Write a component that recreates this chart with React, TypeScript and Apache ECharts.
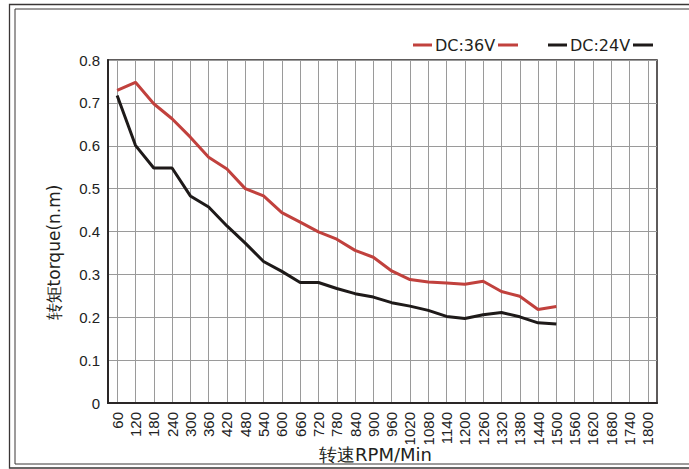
import React, { useEffect, useRef } from 'react';
import * as echarts from 'echarts';

const categories = [
  '60', '120', '180', '240', '300', '360', '420', '480', '540', '600',
  '660', '720', '780', '840', '900', '960', '1020', '1080', '1140', '1200',
  '1260', '1320', '1380', '1440', '1500', '1560', '1620', '1680', '1740', '1800',
];

const seriesNames = ['DC:36V', 'DC:24V'];

const torque36V = [
  0.729, 0.748, 0.698, 0.663, 0.620, 0.573, 0.546, 0.500, 0.483, 0.444,
  0.422, 0.399, 0.382, 0.356, 0.340, 0.308, 0.288, 0.282, 0.280, 0.277,
  0.284, 0.260, 0.249, 0.218, 0.225,
];

const torque24V = [
  0.717, 0.601, 0.548, 0.548, 0.483, 0.457, 0.413, 0.373, 0.330, 0.307,
  0.281, 0.281, 0.267, 0.255, 0.247, 0.234, 0.226, 0.216, 0.202, 0.197,
  0.206, 0.211, 0.201, 0.187, 0.184,
];

const yMin = 0;
const yMax = 0.8;
const yInterval = 0.1;

const xAxisName = '转速RPM/Min';
const yAxisName = '转矩torque(n.m)';

const RED = '#c1413d';
const BLACK = '#1e1a19';

export default function App() {
  const ref = useRef<HTMLDivElement>(null);

  useEffect(() => {
    if (!ref.current) return;
    const chart = echarts.init(ref.current, null, { renderer: 'svg' });
    const legendFont = { fontFamily: 'DejaVu Sans', fontSize: 16 };
    const legendItem = (name: string, color: string, cx: number) => ({
      type: 'group',
      children: [
        { type: 'line', shape: { x1: cx - 52, y1: 45, x2: cx - 33, y2: 45 }, style: { stroke: color, lineWidth: 3 } },
        { type: 'text', x: cx, y: 45, style: { text: name, fill: '#231f20', align: 'center', verticalAlign: 'middle', ...legendFont } },
        { type: 'line', shape: { x1: cx + 33, y1: 45, x2: cx + 53, y2: 45 }, style: { stroke: color, lineWidth: 3 } },
      ],
    });
    chart.setOption({
      animation: false,
      backgroundColor: '#ffffff',
      grid: {
        left: 108,
        right: 32,
        top: 60,
        bottom: 66,
        show: true,
        borderColor: '#2a2626',
        borderWidth: 1.5,
        containLabel: false,
        outerBoundsMode: 'none',
      },
      graphic: [
        { type: 'rect', shape: { x: 9.5, y: 4.5, width: 700, height: 463.5 }, style: { fill: 'none', stroke: '#3a3636', lineWidth: 1.3 } },
        { type: 'rect', shape: { x: 15, y: 9, width: 690, height: 455 }, style: { fill: 'none', stroke: '#3a3636', lineWidth: 1 } },
        legendItem(seriesNames[0], RED, 465),
        legendItem(seriesNames[1], BLACK, 600),
      ],
      xAxis: {
        type: 'category',
        data: categories,
        boundaryGap: true,
        name: xAxisName,
        nameLocation: 'middle',
        nameGap: 42,
        nameMoveOverlap: false,
        nameTextStyle: { fontFamily: 'DejaVu Sans', fontSize: 18, color: '#231f20', padding: [0, 14, 0, 0] },
        axisLine: { show: true, lineStyle: { color: '#2a2626', width: 2 } },
        axisTick: { show: false },
        axisLabel: {
          interval: 0,
          rotate: 90,
          margin: 9,
          fontFamily: 'Liberation Sans',
          fontSize: 15,
          color: '#222',
        },
        splitLine: {
          show: true,
          interval: 0,
          alignWithLabel: true,
          lineStyle: { color: '#9a9a9a', width: 1 },
        },
      },
      yAxis: {
        type: 'value',
        min: yMin,
        max: yMax,
        interval: yInterval,
        name: yAxisName,
        nameLocation: 'middle',
        nameGap: 46,
        nameMoveOverlap: false,
        nameTextStyle: { fontFamily: 'DejaVu Sans', fontSize: 17, color: '#231f20', padding: [0, 42, 0, 0] },
        axisLine: { show: true, lineStyle: { color: '#2a2626', width: 2 } },
        axisTick: { show: false },
        axisLabel: {
          margin: 8,
          fontFamily: 'Liberation Sans',
          fontSize: 15,
          color: '#222',
        },
        splitLine: { show: true, lineStyle: { color: '#9a9a9a', width: 1 } },
      },
      series: [
        {
          name: seriesNames[0],
          type: 'line',
          data: torque36V,
          symbol: 'none',
          lineStyle: { color: RED, width: 3 },
          itemStyle: { color: RED },
          z: 3,
        },
        {
          name: seriesNames[1],
          type: 'line',
          data: torque24V,
          symbol: 'none',
          lineStyle: { color: BLACK, width: 3 },
          itemStyle: { color: BLACK },
          z: 4,
        },
      ],
    });
    return () => chart.dispose();
  }, []);

  return (
    <div
      ref={ref}
      style={{ position: 'absolute', left: 0, top: 0, width: 689, height: 469 }}
    />
  );
}
